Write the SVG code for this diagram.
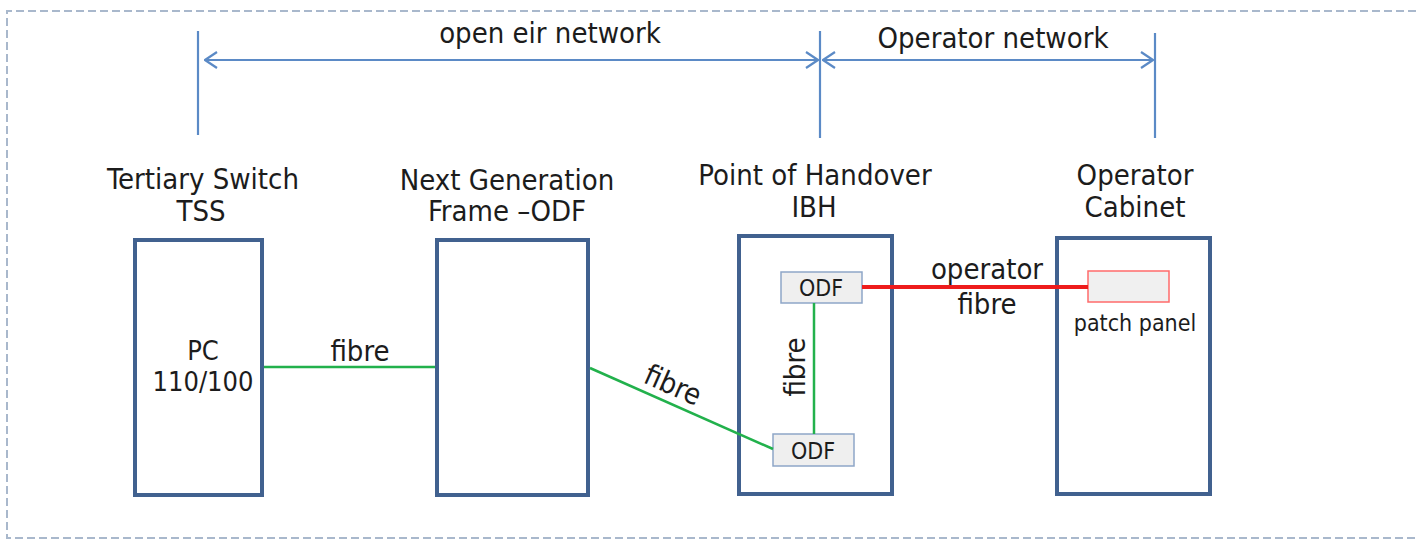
<svg xmlns="http://www.w3.org/2000/svg" width="1416" height="539" viewBox="0 0 1416 539">
  <style>
    .t { font-family: "DejaVu Sans Condensed", "DejaVu Sans", "Liberation Sans", sans-serif; fill: #1c1c1c; text-anchor: middle; }
    .h { font-size: 29px; }
    .m { font-size: 27px; }
    .s { font-size: 23px; }
    .box { fill: #fff; stroke: #41618f; stroke-width: 4; }
    .odf { fill: #efefef; stroke: #8ea6c8; stroke-width: 1.5; }
    .pp { fill: #f0f0f0; stroke: #ff6b6b; stroke-width: 1.5; }
    .dim { stroke: #5b8ac6; stroke-width: 2.2; fill: none; }
    .green { stroke: #22b14c; stroke-width: 2.5; fill: none; }
    .red { stroke: #ee1c1c; stroke-width: 4; fill: none; }
    .frame { stroke: #a9b8cc; stroke-width: 2; stroke-dasharray: 8 4; fill: none; }
  </style>
  <defs>
    <marker id="chev" viewBox="0 0 14 18" refX="13" refY="9" markerWidth="14" markerHeight="18" markerUnits="userSpaceOnUse" orient="auto-start-reverse">
      <path d="M1,1 L13,9 L1,17" fill="none" stroke="#5b8ac6" stroke-width="2.2"/>
    </marker>
  </defs>
  <rect width="1416" height="539" fill="#fff"/>
  <path class="frame" d="M1416,11 L7,11 L7,538 L1416,538"/>

  <g id="dimensions">
    <line class="dim" x1="198" y1="31" x2="198" y2="135"/>
    <line class="dim" x1="820" y1="31" x2="820" y2="138"/>
    <line class="dim" x1="1155" y1="33" x2="1155" y2="138"/>
    <line class="dim" x1="205" y1="60" x2="818" y2="60" marker-start="url(#chev)" marker-end="url(#chev)"/>
    <line class="dim" x1="823" y1="60" x2="1153" y2="60" marker-start="url(#chev)" marker-end="url(#chev)"/>
    <text class="t h" x="550" y="43">open eir network</text>
    <text class="t h" x="993" y="48">Operator network</text>
  </g>

  <g id="tss">
    <text class="t h" x="203" y="189">Tertiary Switch</text>
    <text class="t h" x="201" y="221">TSS</text>
    <rect class="box" x="135" y="240" width="127" height="255"/>
    <text class="t m" x="203" y="360">PC</text>
    <text class="t m" x="203" y="391">110/100</text>
  </g>

  <g id="ngodf">
    <text class="t h" x="507" y="190">Next Generation</text>
    <text class="t h" x="507" y="221">Frame –ODF</text>
    <rect class="box" x="437" y="240" width="151" height="255"/>
  </g>

  <g id="ibh">
    <text class="t h" x="815" y="185">Point of Handover</text>
    <text class="t h" x="814" y="217">IBH</text>
    <rect class="box" x="739" y="236" width="153" height="258"/>
    <g id="odf-top">
      <rect class="odf" x="781" y="272" width="81" height="31"/>
      <text class="t s" x="821" y="296">ODF</text>
    </g>
    <g id="odf-bottom">
      <rect class="odf" x="773" y="434" width="81" height="32"/>
      <text class="t s" x="813" y="459">ODF</text>
    </g>
  </g>

  <g id="operator-cabinet">
    <text class="t h" x="1135" y="185">Operator</text>
    <text class="t h" x="1135" y="217">Cabinet</text>
    <rect class="box" x="1057" y="238" width="153" height="256"/>
    <rect class="pp" x="1088" y="271" width="81" height="31"/>
    <text class="t s" x="1135" y="331">patch panel</text>
  </g>

  <g id="connectors">
    <line class="green" x1="264" y1="367" x2="435" y2="367"/>
    <text class="t h" x="360" y="361">fibre</text>
    <line class="green" x1="590" y1="368" x2="773" y2="449"/>
    <text class="t h" transform="translate(669,394) rotate(23.9)">fibre</text>
    <line class="green" x1="814" y1="303" x2="814" y2="434"/>
    <text class="t h" transform="translate(805,367) rotate(-90)">fibre</text>
    <line class="red" x1="862" y1="287" x2="1088" y2="287"/>
    <text class="t h" x="987" y="279">operator</text>
    <text class="t h" x="987" y="314">fibre</text>
  </g>
</svg>
